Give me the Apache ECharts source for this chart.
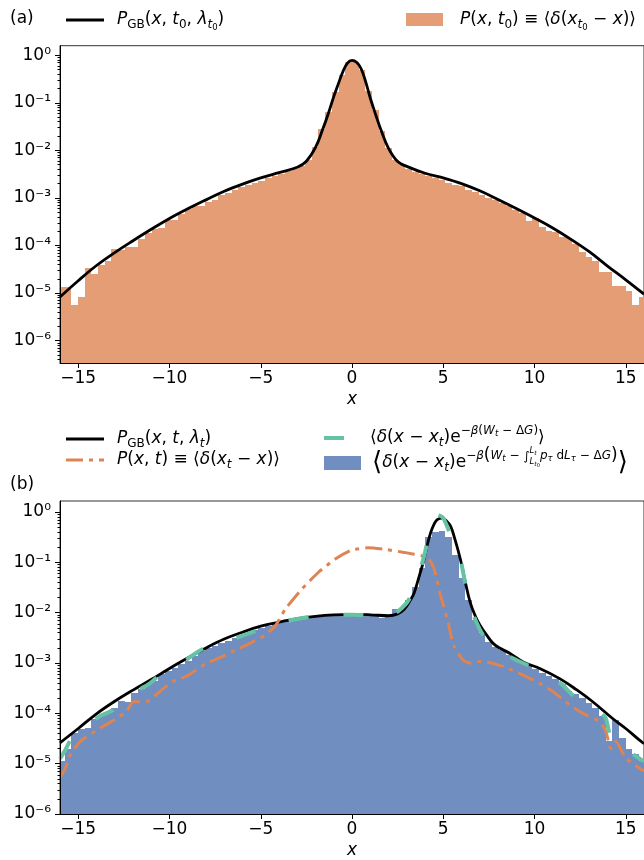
<!DOCTYPE html>
<html lang="en">
<head>
<meta charset="UTF-8">
<title>P_GB histograms</title>
<script src="https://cdn.jsdelivr.net/npm/echarts@6/dist/echarts.min.js"></script>
<style>html,body{margin:0;padding:0;background:#fff;}</style>
</head>
<body>
<div id="main" style="width:644px;height:860px;"></div>
<script>
// histogram bins (both panels use the same bins)
var binStart = -16.11;
var binWidth = 0.366;

// panel (a): histogram of x at t0 and the P_GB curve
var histA = [1.35e-5, 1.35e-5, 5.6e-6, 8.3e-6, 3.3e-5, 2.5e-5, 3.9e-5, 4.7e-5, 8.3e-5, 7.9e-5,
    9.3e-5, 9.3e-5, 1.35e-4, 1.8e-4, 2.2e-4, 2.3e-4, 3.5e-4, 3.4e-4, 4.6e-4, 5.8e-4,
    6.8e-4, 6.8e-4, 8.3e-4, 8.9e-4, 1.17e-3, 1.26e-3, 1.48e-3, 1.66e-3, 1.9e-3, 2.1e-3,
    2.3e-3, 2.6e-3, 2.9e-3, 3.2e-3, 3.6e-3, 4.1e-3, 4.7e-3, 6.3e-3, 1.2e-2, 2.75e-2,
    6.3e-2, 0.166, 0.38, 0.71, 0.72, 0.48, 0.178, 0.071, 0.025, 0.0112,
    6.3e-3, 4.9e-3, 4.1e-3, 3.5e-3, 3.2e-3, 2.9e-3, 2.6e-3, 2.4e-3, 2.1e-3, 1.9e-3,
    1.74e-3, 1.48e-3, 1.32e-3, 1.15e-3, 1.0e-3, 8.9e-4, 7.9e-4, 6.8e-4, 5.5e-4, 4.9e-4,
    3.3e-4, 3.7e-4, 2.45e-4, 2.0e-4, 1.9e-4, 1.48e-4, 1.41e-4, 1.1e-4, 7.4e-5, 5.8e-5,
    4.7e-5, 2.8e-5, 2.8e-5, 1.41e-5, 1.41e-5, 1.12e-5, 5.6e-6, 8.3e-6];
var gbAx = [-16, -15, -14, -13, -12, -11, -10, -9, -8, -7, -6, -5, -4, -3, -2.5, -2, -1.6, -1.3, -1,
    -0.75, -0.5, -0.25, 0, 0.25, 0.5, 0.75, 1, 1.3, 1.6, 2, 2.5, 3, 4, 5, 6, 7, 8, 9, 10, 11, 12, 13, 14, 15, 16];
var gbAy = [8.3e-6, 1.82e-5, 3.8e-5, 7.1e-5, 1.26e-4, 2.19e-4, 3.7e-4, 5.9e-4, 9.1e-4, 1.38e-3, 1.95e-3,
    2.63e-3, 3.4e-3, 4.4e-3, 5.9e-3, 1.15e-2, 2.8e-2, 5.9e-2, 0.135,
    0.25, 0.45, 0.68, 0.78, 0.71, 0.52, 0.275, 0.126, 0.056, 0.026, 0.011, 5.8e-3, 4.6e-3, 3.3e-3,
    2.63e-3, 2.0e-3, 1.41e-3, 9.3e-4, 6.0e-4, 3.8e-4, 2.34e-4, 1.35e-4, 7.4e-5, 3.7e-5, 1.9e-5, 9.5e-6];

// panel (b): reweighted histogram and the three curves
var histB = [1.12e-5, 2.0e-5, 4.0e-5, 5.0e-5, 5.1e-5, 7.6e-5, 8.9e-5, 1.05e-4, 1.26e-4, 1.78e-4,
    1.66e-4, 2.5e-4, 3.0e-4, 3.8e-4, 4.4e-4, 6.0e-4, 6.8e-4, 7.9e-4, 9.5e-4, 1.12e-3,
    1.41e-3, 1.7e-3, 1.95e-3, 2.2e-3, 2.5e-3, 2.8e-3, 3.2e-3, 3.5e-3, 4.0e-3, 4.6e-3,
    5.0e-3, 5.5e-3, 6.0e-3, 6.6e-3, 7.1e-3, 7.6e-3, 7.9e-3, 8.3e-3, 8.5e-3, 8.7e-3,
    8.9e-3, 9.1e-3, 9.1e-3, 9.1e-3, 9.1e-3, 8.9e-3, 8.7e-3, 8.5e-3, 7.9e-3, 8.5e-3,
    1.17e-2, 1.26e-2, 1.78e-2, 3.2e-2, 7.9e-2, 0.32, 0.4, 0.42, 0.32, 0.14,
    0.05, 0.0178, 7.1e-3, 4.0e-3, 2.6e-3, 2.1e-3, 1.78e-3, 1.45e-3, 1.2e-3, 1.05e-3,
    8.9e-4, 7.6e-4, 6.3e-4, 5.6e-4, 4.8e-4, 3.8e-4, 2.8e-4, 2.4e-4, 2.0e-4, 1.58e-4,
    1.26e-4, 8.9e-5, 2.8e-5, 7.4e-5, 3.2e-5, 2.0e-5, 1.58e-5, 1.12e-5];
var gbBx = [-16, -15, -14, -13, -12, -11, -10, -9, -8, -7, -6, -5, -4, -3, -2, -1, 0, 1, 2, 2.5,
    2.86, 3.2, 3.41, 3.7, 3.95, 4.15, 4.31, 4.5, 4.67, 4.95, 5.15, 5.4, 5.65, 5.94, 6.2, 6.48,
    6.75, 7.03, 7.4, 7.76, 8.2, 8.66, 9.38, 10.29, 11.38, 12.3, 13.19, 14.28, 15, 15.72, 16];
var gbBy = [2.6e-5, 5.0e-5, 9.8e-5, 1.74e-4, 2.9e-4, 4.7e-4, 7.8e-4, 1.26e-3, 2.0e-3, 3.0e-3,
    4.1e-3, 5.4e-3, 6.5e-3, 7.6e-3, 8.5e-3, 9.1e-3, 9.3e-3, 9.1e-3, 8.7e-3, 9.5e-3,
    1.17e-2, 1.78e-2, 2.5e-2, 5.6e-2, 0.115, 0.24, 0.39, 0.575, 0.71, 0.76, 0.68, 0.525,
    0.28, 0.115, 0.042, 0.0158, 8.7e-3, 5.5e-3, 3.5e-3, 2.4e-3, 1.9e-3, 1.55e-3, 1.05e-3,
    7.8e-4, 4.9e-4, 2.95e-4, 1.7e-4, 7.9e-5, 5.0e-5, 3.0e-5, 2.5e-5];
var pBx = [-16, -15.7, -15.43, -14.9, -13.8, -12.9, -12.35, -11.99, -11.27, -10.54, -9.82, -9.1,
    -8, -7.28, -6.4, -5.47, -4.8, -4.2, -3.66, -2.75, -1.85, -0.94, -0.04, 0.87, 1.78, 2.86,
    3.95, 4.2, 4.49, 4.85, 5.22, 5.58, 6.12, 6.48, 6.9, 7.39, 8.3, 9.02, 10.11, 11.02, 11.92,
    12.65, 13.55, 13.91, 14.18, 14.46, 15, 15.72, 16];
var pBy = [5.2e-6, 8.3e-6, 1.51e-5, 2.75e-5, 5.1e-5, 7.9e-5, 1.1e-4, 1.7e-4, 1.7e-4, 2.7e-4,
    4.3e-4, 5.4e-4, 9.8e-4, 1.26e-3, 1.78e-3, 2.6e-3, 3.5e-3, 5.5e-3, 1.17e-2, 2.95e-2,
    6.3e-2, 0.115, 0.174, 0.195, 0.182, 0.158, 0.132, 0.12, 0.076, 0.022, 7.6e-3, 2.2e-3,
    1.12e-3, 1.0e-3, 1.07e-3, 1.05e-3, 8.5e-4, 6.6e-4, 4.3e-4, 2.7e-4, 1.48e-4, 1.0e-4,
    6.9e-5, 4.4e-5, 2.0e-5, 2.75e-5, 1.29e-5, 8.3e-6, 7.1e-6];
var wBx = [-16, -15.7, -15.16, -14.5, -13.8, -13.08, -12.54, -11.8, -11.09, -10.36, -9.5, -8.19,
    -7.28, -6, -4.93, -3.5, -1.85, 0, 1, 1.41, 1.78, 2.14, 2.6, 3.1, 3.59, 4, 4.4, 4.67, 5,
    5.4, 5.94, 6.3, 6.67, 7.2, 7.8, 8.84, 9.8, 10.8, 11.56, 12.1, 13, 13.5, 13.91, 14.18,
    14.5, 14.82, 15.18, 15.72, 16];
var wBy = [1.26e-5, 1.9e-5, 4.4e-5, 6.0e-5, 8.9e-5, 1.17e-4, 2.0e-4, 2.8e-4, 3.9e-4, 6.6e-4,
    9.3e-4, 1.9e-3, 2.4e-3, 3.5e-3, 4.8e-3, 6.9e-3, 8.7e-3, 9.1e-3, 8.9e-3, 8.7e-3, 7.8e-3,
    8.7e-3, 1.12e-2, 1.78e-2, 4.6e-2, 0.158, 0.71, 0.89, 0.76, 0.355, 0.115, 0.025, 8.7e-3,
    3.5e-3, 2.1e-3, 1.23e-3, 8.5e-4, 5.8e-4, 3.6e-4, 2.3e-4, 1.41e-4, 1.2e-4, 7.9e-5, 3.2e-5,
    3.0e-5, 2.75e-5, 1.78e-5, 1.29e-5, 1.12e-5];

// axes
var xTicks = [-15, -10, -5, 0, 5, 10, 15];
var yTicks = [1e-6, 1e-5, 1e-4, 1e-3, 1e-2, 1e-1, 1];
var yMinA = 3.39e-7, yMaxA = 1.585;
var yMinB = 1e-6, yMaxB = 1.66;

var FONT = '"DejaVu Sans"';
var black = '#000000';
var orangeFill = '#e49d75';
var blueFill = '#708ec0';
var orangeLine = '#dd8452';
var greenLine = '#66c2a5';

function minorTicks(lo, hi) {
    var out = [];
    for (var e = -8; e <= 0; e++) {
        for (var k = 2; k <= 9; k++) {
            var v = k * Math.pow(10, e);
            if (v >= lo && v <= hi) out.push(v);
        }
    }
    return out;
}

var supMap = { '-': '⁻', '0': '⁰', '1': '¹', '2': '²', '3': '³', '4': '⁴', '5': '⁵', '6': '⁶', '7': '⁷', '8': '⁸', '9': '⁹' };
function powLabel(v) {
    var e = String(Math.round(Math.log10(v)));
    return '10' + e.split('').map(function (c) { return supMap[c]; }).join('');
}

function pairs(xs, ys) {
    return xs.map(function (x, i) { return [x, ys[i]]; });
}

function bins(h) {
    return h.map(function (v, i) {
        return [binStart + i * binWidth, binStart + (i + 1) * binWidth, v];
    });
}

function histItem(color, floor) {
    return function (params, api) {
        var top = api.coord([api.value(0), api.value(2)]);
        var bot = api.coord([api.value(1), floor]);
        var x0 = Math.round(top[0]), x1 = Math.round(bot[0]), y0 = Math.round(top[1]);
        var cs = params.coordSys;
        var shape = echarts.graphic.clipRectByRect(
            { x: x0, y: y0, width: x1 - x0, height: bot[1] - y0 },
            { x: cs.x, y: cs.y, width: cs.width, height: cs.height });
        return shape && { type: 'rect', shape: shape, style: { fill: color } };
    };
}

// --- small typesetter for the legend formulas ---
var ctx = document.createElement('canvas').getContext('2d');
var graphics = [];
function setText(x, y, parts) {
    var cx = x;
    parts.forEach(function (p) {
        if (p.top) {
            var w1 = setText(cx, y, p.top);
            var w2 = setText(cx, y, p.bot);
            cx += Math.max(w1, w2);
            return;
        }
        var font = (p[2] ? 'italic ' : '') + p[1] + 'px ' + FONT;
        graphics.push({
            type: 'text', x: cx, y: y + (p[3] || 0), z: 100,
            style: { text: p[0], font: font, fill: black, verticalAlign: 'middle', align: 'left' }
        });
        ctx.font = font;
        cx += ctx.measureText(p[0]).width;
    });
    return cx - x;
}
var N = 17, S = 12, SS = 8.5;

function line(x1, x2, y, color, width, dash) {
    graphics.push({
        type: 'line', z: 100, shape: { x1: x1, y1: y, x2: x2, y2: y },
        style: { stroke: color, lineWidth: width, lineDash: dash || null }
    });
}
function box(x, y, w, h, color) {
    graphics.push({ type: 'rect', z: 100, shape: { x: x, y: y, width: w, height: h }, style: { fill: color } });
}

// panel labels
setText(10, 19, [['(a)', N]]);
setText(10, 485, [['(b)', N]]);

// legend (a)
line(66, 104, 20, black, 3);
setText(117, 20, [['P', N, 1], ['GB', S, 0, 5], ['(', N], ['x', N, 1], [', ', N], ['t', N, 1], ['0', S, 0, 5],
    [', ', N], ['λ', N, 1], ['t', S, 1, 5], ['0', SS, 0, 8], [')', N]]);
box(406, 13, 37, 13, orangeFill);
setText(460, 20, [['P', N, 1], ['(', N], ['x', N, 1], [', ', N], ['t', N, 1], ['0', S, 0, 5], [') ≡ ', N],
    ['⟨', N], ['δ', N, 1], ['(', N], ['x', N, 1], ['t', S, 1, 5], ['0', SS, 0, 8], [' − ', N], ['x', N, 1], [')⟩', N]]);

// legend (b)
line(66, 104, 439, black, 3);
setText(117, 439, [['P', N, 1], ['GB', S, 0, 5], ['(', N], ['x', N, 1], [', ', N], ['t', N, 1],
    [', ', N], ['λ', N, 1], ['t', S, 1, 5], [')', N]]);
line(66, 104, 460, orangeLine, 3, [17, 6, 4, 6]);
setText(117, 460, [['P', N, 1], ['(', N], ['x', N, 1], [', ', N], ['t', N, 1], [') ≡ ', N],
    ['⟨', N], ['δ', N, 1], ['(', N], ['x', N, 1], ['t', S, 1, 5], [' − ', N], ['x', N, 1], [')⟩', N]]);
line(324, 344, 438, greenLine, 4);
setText(370, 438, [['⟨', N], ['δ', N, 1], ['(', N], ['x', N, 1], [' − ', N], ['x', N, 1], ['t', S, 1, 5], [')e', N],
    ['−', S, 0, -7], ['β', S, 1, -7], ['(', S, 0, -7], ['W', S, 1, -7], ['t', SS, 1, -4], [' − Δ', S, 0, -7],
    ['G', S, 1, -7], [')', S, 0, -7], ['⟩', N]]);
box(324, 456, 37, 14, blueFill);
setText(372, 463, [['⟨', 26], ['δ', N, 1], ['(', N], ['x', N, 1], [' − ', N], ['x', N, 1], ['t', S, 1, 5], [')e', N],
    ['−', S, 0, -7], ['β', S, 1, -7], ['(', 17, 0, -7], ['W', S, 1, -7], ['t', SS, 1, -4], [' − ', S, 0, -7],
    ['∫', S, 0, -6],
    { top: [['L', SS, 1, -12], ['t', 6, 1, -10]], bot: [['L', SS, 1, -1], ['t', 6, 1, 1], ['0', 5, 0, 3]] },
    ['p', S, 1, -7], ['τ', SS, 1, -4], [' d', S, 0, -7], ['L', S, 1, -7], ['τ', SS, 1, -4], [' − Δ', S, 0, -7],
    ['G', S, 1, -7], [')', 17, 0, -7], ['⟩', 26]]);

function xAxis(g) {
    return {
        type: 'value', gridIndex: g, min: -16, max: 16, z: 5,
        axisLine: { show: true, onZero: false, lineStyle: { color: black, width: 1 } },
        axisTick: { show: true, length: 5, customValues: xTicks, lineStyle: { color: black } },
        axisLabel: {
            customValues: xTicks, color: black, fontSize: 17, fontFamily: FONT, margin: 7,
            formatter: function (v) { return String(v).replace('-', '−'); }
        },
        splitLine: { show: false },
        name: 'x', nameLocation: 'middle', nameGap: 28,
        nameTextStyle: { color: black, fontSize: 17, fontStyle: 'italic', fontFamily: FONT }
    };
}
function yAxes(g, lo, hi) {
    return [{
        type: 'log', logBase: 10, gridIndex: g, min: lo, max: hi, z: 5, position: 'left',
        axisLine: { show: true, onZero: false, lineStyle: { color: black, width: 1 } },
        axisTick: { show: true, length: 5, customValues: yTicks, lineStyle: { color: black } },
        axisLabel: { customValues: yTicks, color: black, fontSize: 17, fontFamily: FONT, margin: 9, formatter: powLabel },
        splitLine: { show: false }
    }, {
        type: 'log', logBase: 10, gridIndex: g, min: lo, max: hi, z: 5, position: 'left', offset: 0,
        axisLine: { show: false, onZero: false },
        axisTick: { show: true, length: 2.5, customValues: minorTicks(lo, hi), lineStyle: { color: black } },
        axisLabel: { show: false },
        splitLine: { show: false }
    }];
}

var chart = echarts.init(document.getElementById('main'), null, { renderer: 'canvas' });
chart.setOption({
    animation: false,
    backgroundColor: '#fff',
    grid: [
        { left: 60, top: 45.7, width: 588.6, height: 317.3, show: true, borderColor: '#333', borderWidth: 1 },
        { left: 60, top: 501, width: 588.6, height: 316.3, show: true, borderColor: '#333', borderWidth: 1 }
    ],
    xAxis: [xAxis(0), xAxis(1)],
    yAxis: yAxes(0, yMinA, yMaxA).concat(yAxes(1, yMinB, yMaxB)),
    graphic: graphics,
    series: [
        {
            type: 'custom', xAxisIndex: 0, yAxisIndex: 0, data: bins(histA),
            encode: { x: [0, 1], y: 2 }, renderItem: histItem(orangeFill, yMinA), z: 1
        },
        {
            type: 'line', xAxisIndex: 0, yAxisIndex: 0, data: pairs(gbAx, gbAy), smooth: 0.4,
            showSymbol: false, lineStyle: { color: black, width: 2.8 }, z: 3
        },
        {
            type: 'custom', xAxisIndex: 1, yAxisIndex: 2, data: bins(histB),
            encode: { x: [0, 1], y: 2 }, renderItem: histItem(blueFill, yMinB), z: 1
        },
        {
            type: 'line', xAxisIndex: 1, yAxisIndex: 2, data: pairs(gbBx, gbBy), smooth: 0.4,
            showSymbol: false, lineStyle: { color: black, width: 2.8 }, z: 3
        },
        {
            type: 'line', xAxisIndex: 1, yAxisIndex: 2, data: pairs(pBx, pBy), smooth: 0.2,
            showSymbol: false, lineStyle: { color: orangeLine, width: 3, type: [17, 6, 4, 6] }, z: 3
        },
        {
            type: 'line', xAxisIndex: 1, yAxisIndex: 2, data: pairs(wBx, wBy), smooth: 0.2,
            showSymbol: false, lineStyle: { color: greenLine, width: 4, type: [20, 35] }, z: 3
        }
    ]
});
</script>
</body>
</html>
